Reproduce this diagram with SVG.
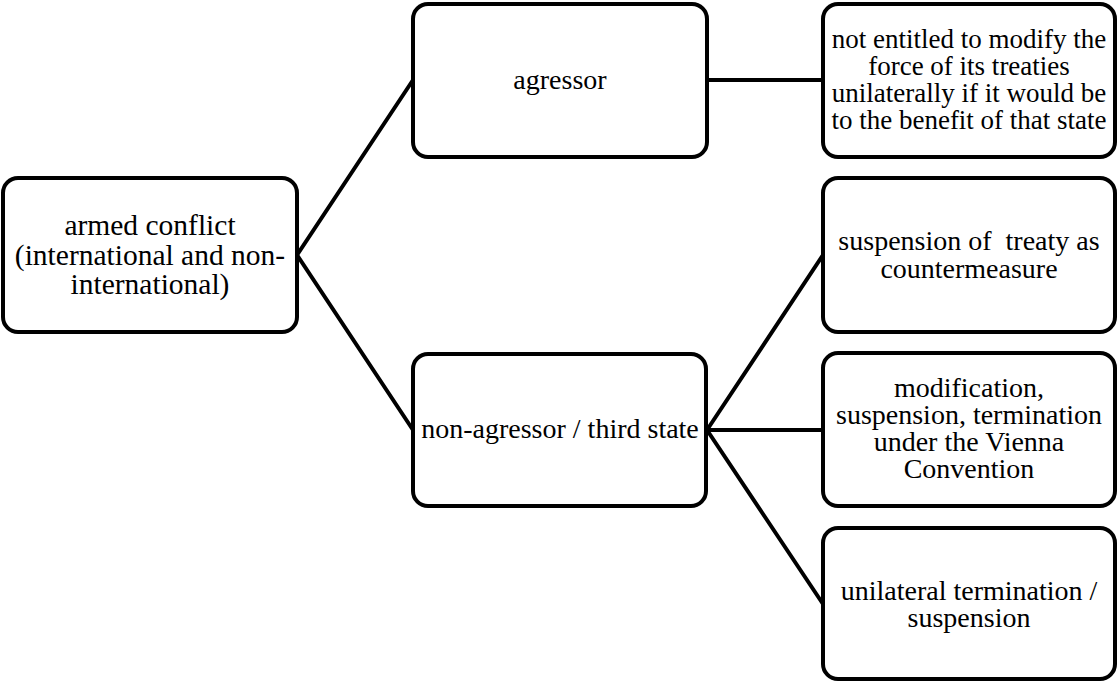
<svg xmlns="http://www.w3.org/2000/svg" width="1117" height="681" viewBox="0 0 1117 681">
  <style>
    .box { fill: #ffffff; stroke: #000000; stroke-width: 4; }
    .link { stroke: #000000; stroke-width: 4; fill: none; stroke-linecap: round; }
    .lbl { fill: #000000; text-anchor: middle; }
    .t29 { font-size: 29.5px; }
    .t28 { font-size: 28px; }
    .t27 { font-size: 27px; }
  </style>

  <!-- connectors: root to middle tier, middle tier to outcomes -->
  <g id="connectors">
    <line class="link" x1="297" y1="255" x2="413" y2="80"/>
    <line class="link" x1="297" y1="255" x2="413" y2="430"/>
    <line class="link" x1="707" y1="80" x2="823" y2="80"/>
    <line class="link" x1="707" y1="430" x2="823" y2="255"/>
    <line class="link" x1="707" y1="430" x2="823" y2="430"/>
    <line class="link" x1="707" y1="430" x2="823" y2="604"/>
  </g>

  <g font-family="Liberation Serif, DejaVu Serif, serif">
  <g id="armed-conflict">
    <rect class="box" x="3" y="178" width="294" height="154" rx="15"/>
    <text class="lbl t29" x="150" y="235">armed conflict<tspan x="150" dy="29.5">(international and non-</tspan><tspan x="150" dy="29.5">international)</tspan></text>
  </g>

  <g id="agressor">
    <rect class="box" x="413" y="4" width="294" height="153" rx="15"/>
    <text class="lbl t28" x="560" y="89">agressor</text>
  </g>

  <g id="non-agressor">
    <rect class="box" x="413" y="354" width="293" height="152" rx="15"/>
    <text class="lbl t28" x="560" y="438">non-agressor / third state</text>
  </g>

  <g id="not-entitled">
    <rect class="box" x="823" y="4" width="292" height="153" rx="15"/>
    <text class="lbl t27" x="969" y="47.5">not entitled to modify the<tspan x="969" dy="27">force of its treaties</tspan><tspan x="969" dy="27">unilaterally if it would be</tspan><tspan x="969" dy="27">to the benefit of that state</tspan></text>
  </g>

  <g id="countermeasure">
    <rect class="box" x="823" y="178" width="292" height="154" rx="15"/>
    <text class="lbl t28" x="969" y="250" xml:space="preserve">suspension of  treaty as<tspan x="969" dy="28">countermeasure</tspan></text>
  </g>

  <g id="vienna-convention">
    <rect class="box" x="823" y="353" width="292" height="153" rx="15"/>
    <text class="lbl t28" x="969" y="397">modification,<tspan x="969" dy="27">suspension, termination</tspan><tspan x="969" dy="27">under the Vienna</tspan><tspan x="969" dy="27">Convention</tspan></text>
  </g>

  <g id="unilateral">
    <rect class="box" x="823" y="528" width="292" height="151" rx="15"/>
    <text class="lbl t28" x="969" y="600">unilateral termination /<tspan x="969" dy="27">suspension</tspan></text>
  </g>
  </g>
</svg>
